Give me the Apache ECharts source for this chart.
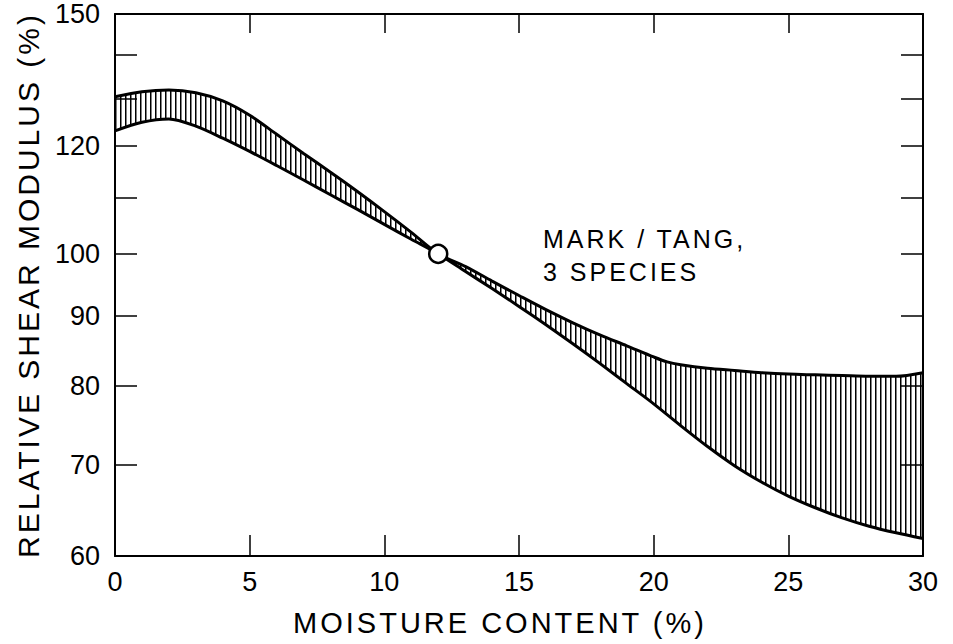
<!DOCTYPE html>
<html><head><meta charset="utf-8">
<script src="https://cdn.jsdelivr.net/npm/echarts@6/dist/echarts.min.js"></script>
<style>
html,body{margin:0;padding:0;background:#fff;}
#chart{width:953px;height:644px;}
</style></head><body><div id="chart"></div>
<script>
// ---- data ----
const xTickValues = [0, 5, 10, 15, 20, 25, 30];
const yLabelValues = [60, 70, 80, 90, 100, 120, 150];
const yTickValues = [60, 70, 80, 90, 100, 110, 120, 130, 140, 150];
const upperX = [0, 1, 2, 3, 4, 5, 6, 7, 8, 9, 10, 11, 12, 13, 14, 15, 16, 17, 18, 19, 20, 20.5, 21, 22, 23, 24, 25, 26, 27, 28, 29, 30];
const upperY = [130.4, 131.5, 131.9, 131.3, 129.5, 126.4, 122.4, 118.5, 114.8, 111.1, 107.4, 103.7, 100, 97.9, 95.5, 93.2, 91.0, 89.0, 87.2, 85.6, 84.0, 83.3, 82.9, 82.4, 82.1, 81.8, 81.6, 81.5, 81.4, 81.3, 81.3, 81.8];
const lowerX = [0, 1, 2, 3, 4, 5, 6, 7, 8, 9, 10, 11, 12, 13, 14, 15, 16, 17, 18, 19, 20, 21, 22, 23, 24, 25, 26, 27, 28, 29, 30];
const lowerY = [123.1, 124.9, 125.6, 124.1, 121.6, 118.9, 116.1, 113.3, 110.5, 107.8, 105.1, 102.5, 100, 97.1, 94.3, 91.5, 88.7, 85.9, 83.1, 80.3, 77.6, 74.8, 72.2, 69.9, 68.0, 66.4, 65.1, 64.0, 63.1, 62.4, 61.8];
const refPoint = [12, 100];
const xTitle = 'MOISTURE CONTENT (%)';
const yTitle = 'RELATIVE SHEAR MODULUS (%)';
const annotation = 'MARK / TANG,\n3 SPECIES';

// ---- build ----
const F = '"Liberation Sans", Arial, sans-serif';
const zip = (xs, ys) => xs.map((x, i) => [x, ys[i]]);
const pc = document.createElement('canvas');
pc.width = 5; pc.height = 6;
const g = pc.getContext('2d');
g.fillStyle = '#fff'; g.fillRect(0, 0, 5, 6);
g.fillStyle = '#000'; g.fillRect(0, 0, 1.5, 6);

const axisLine = {show: true, onZero: false, lineStyle: {color: '#000', width: 2}};
const tickStyle = {color: '#000', width: 1.5};

const chart = echarts.init(document.getElementById('chart'), null, {renderer: 'svg'});
chart.setOption({
  animation: false,
  backgroundColor: '#fff',
  grid: {left: 115, right: 30, top: 14, bottom: 88, containLabel: false, outerBoundsMode: 'none'},
  xAxis: [{
    type: 'value', min: 0, max: 30, interval: 5, position: 'bottom', z: 5,
    axisLine: axisLine,
    axisTick: {inside: true, length: 21, lineStyle: tickStyle},
    axisLabel: {color: '#000', fontSize: 27, fontFamily: F, margin: 12},
    splitLine: {show: false},
    name: xTitle, nameLocation: 'middle', nameGap: 52, nameMoveOverlap: false,
    nameTextStyle: {color: '#000', fontSize: 29, fontFamily: F, padding: [0, 38, 0, 0]}
  }, {
    type: 'value', min: 0, max: 30, interval: 5, position: 'top', z: 5,
    axisLine: axisLine,
    axisTick: {inside: true, length: 19, lineStyle: tickStyle},
    axisLabel: {show: false}, splitLine: {show: false}
  }],
  yAxis: [{
    type: 'log', logBase: 10, min: 60, max: 150, position: 'left', z: 5,
    axisLine: axisLine,
    axisTick: {inside: true, length: 22, lineStyle: tickStyle, customValues: yTickValues},
    axisLabel: {color: '#000', fontSize: 27, fontFamily: F, margin: 15, customValues: yLabelValues},
    minorTick: {show: false}, splitLine: {show: false}, minorSplitLine: {show: false},
    name: yTitle, nameLocation: 'middle', nameGap: 72, nameRotate: 90, nameMoveOverlap: false,
    nameTextStyle: {color: '#000', fontSize: 30, fontFamily: F}
  }, {
    type: 'log', logBase: 10, min: 60, max: 150, position: 'right', z: 5,
    axisLine: axisLine,
    axisTick: {inside: true, length: 22, lineStyle: tickStyle, customValues: yTickValues},
    axisLabel: {show: false},
    minorTick: {show: false}, splitLine: {show: false}, minorSplitLine: {show: false}
  }],
  graphic: [{
    type: 'text', left: 543, top: 222, z: 10,
    style: {text: annotation, font: '25px ' + F, fill: '#000', lineHeight: 33}
  }],
  series: [{
    type: 'line', data: zip(upperX, upperY), smooth: 0.3, symbol: 'none', z: 2, silent: true,
    lineStyle: {opacity: 0},
    areaStyle: {color: {image: pc, repeat: 'repeat'}, opacity: 1, origin: 'start'}
  }, {
    type: 'line', data: zip(lowerX, lowerY), smooth: 0.3, symbol: 'none', z: 2, silent: true,
    lineStyle: {opacity: 0},
    areaStyle: {color: '#fff', opacity: 1, origin: 'start'}
  }, {
    type: 'line', data: zip(upperX, upperY), smooth: 0.3, symbol: 'none', z: 3,
    lineStyle: {color: '#000', width: 3}
  }, {
    type: 'line', data: zip(lowerX, lowerY), smooth: 0.3, symbol: 'none', z: 3,
    lineStyle: {color: '#000', width: 3}
  }, {
    type: 'scatter', data: [refPoint], symbol: 'circle', symbolSize: 18, z: 6,
    itemStyle: {color: '#fff', borderColor: '#000', borderWidth: 2.5, opacity: 1}
  }]
});

// widen the lettering of the word texts (titles, annotation) like the stencil lettering
function spaceWords() {
  document.querySelectorAll('#chart svg text').forEach(t => {
    if (/[A-Z]/.test(t.textContent)) t.style.letterSpacing = '3px';
  });
}
spaceWords();
chart.on('finished', spaceWords);
</script></body></html>
